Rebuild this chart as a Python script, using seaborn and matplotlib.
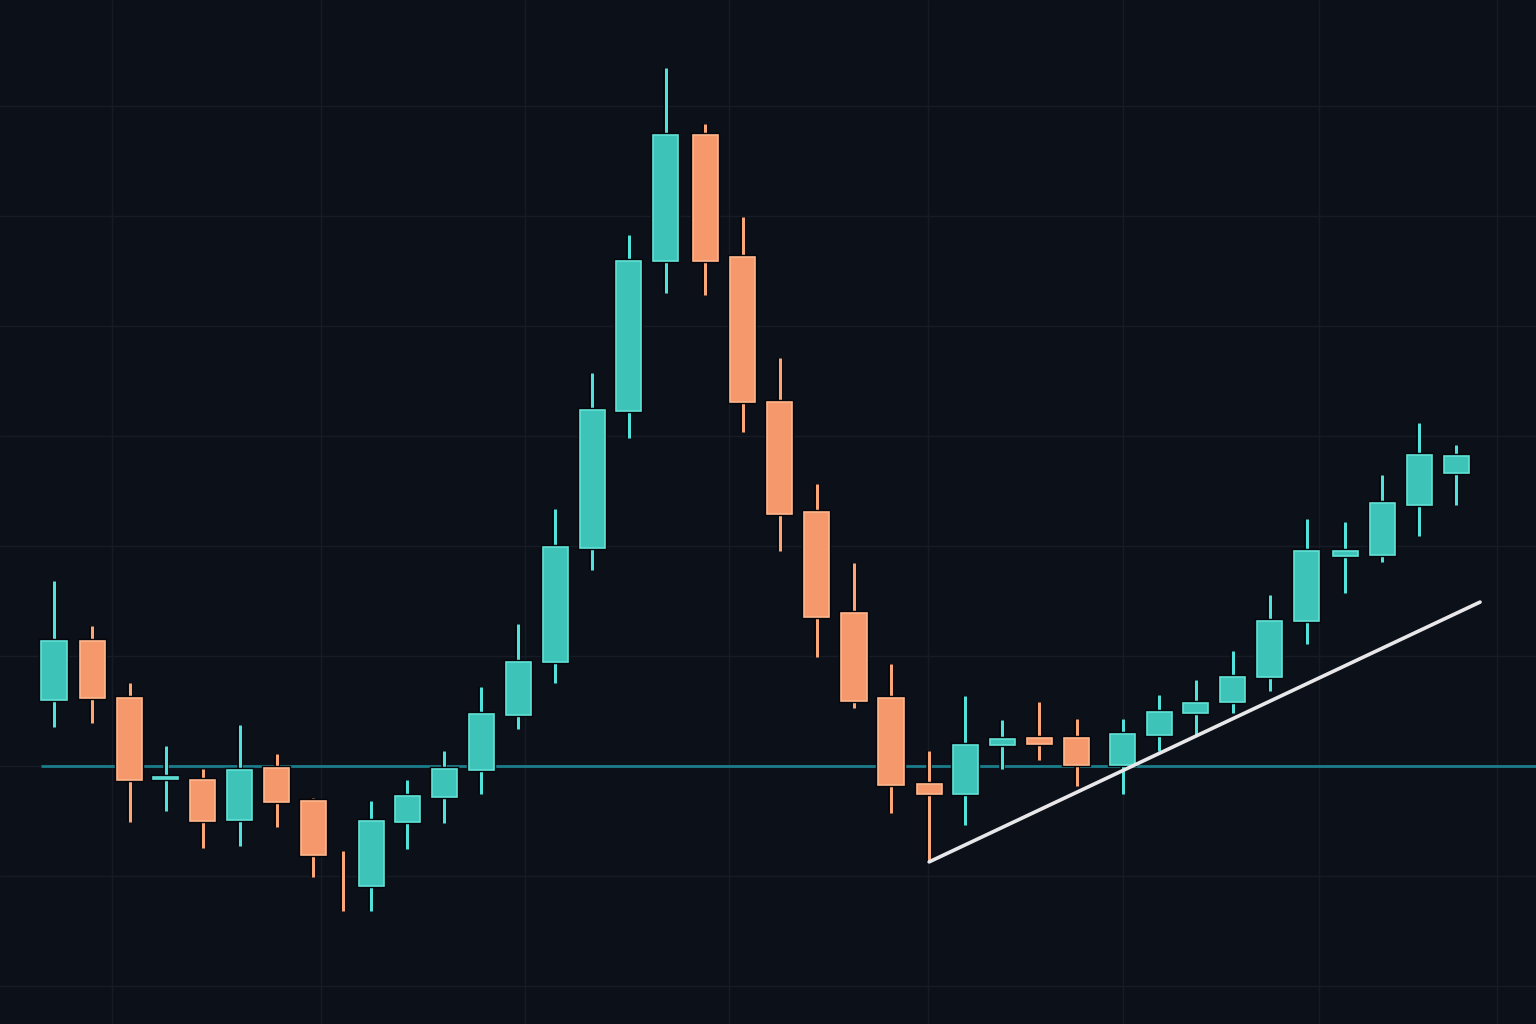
import numpy as np
import pandas as pd
import matplotlib
matplotlib.use("Agg")
import matplotlib.pyplot as plt
import matplotlib.patheffects as pe
import seaborn as sns

# ---- data ----
t = [0.00, 1.02, 2.03, 2.99, 3.98, 4.97, 5.96, 6.93, 7.73, 8.48,
     9.44, 10.43, 11.42, 12.41, 13.40, 14.39, 15.37, 16.36, 17.41, 18.42,
     19.41, 20.40, 21.39, 22.38, 23.40, 24.36, 25.35, 26.34, 27.35, 28.58,
     29.55, 30.53, 31.52, 32.51, 33.50, 34.52, 35.51, 36.50, 37.49]
open_ = [103.00, 105.68, 103.09, 99.41, 99.36, 97.55, 99.91, 98.41, 96.14, 94.55,
         97.45, 98.59, 99.82, 102.32, 104.73, 109.91, 116.14, 122.95, 128.68, 123.14,
         116.55, 111.55, 106.95, 103.09, 99.18, 98.73, 100.95, 101.27, 101.27, 100.05,
         101.41, 102.41, 102.91, 104.05, 106.59, 109.55, 109.59, 111.86, 113.32]
close = [105.68, 103.09, 99.36, 99.50, 97.50, 99.82, 98.36, 95.95, 96.14, 97.50,
         98.64, 99.86, 102.36, 104.73, 109.95, 116.18, 122.95, 128.68, 122.95, 116.55,
         111.45, 106.77, 102.95, 99.14, 98.73, 100.95, 101.23, 101.00, 100.05, 101.45,
         102.45, 102.86, 104.05, 106.59, 109.77, 109.77, 111.95, 114.14, 114.09]
high = [108.41, 106.36, 103.77, 100.91, 99.86, 101.86, 100.55, 98.55, 96.14, 98.41,
        99.36, 100.68, 103.59, 106.45, 111.68, 117.86, 124.14, 131.73, 129.18, 124.95,
        118.55, 112.82, 109.23, 104.64, 100.68, 103.18, 102.09, 102.91, 102.14, 102.14,
        103.23, 103.91, 105.23, 107.77, 111.23, 111.09, 113.23, 115.59, 114.59]
low = [101.77, 101.95, 97.45, 97.95, 96.27, 96.36, 97.23, 94.95, 93.41, 93.41,
       96.23, 97.41, 98.73, 101.68, 103.77, 108.91, 114.91, 121.50, 121.41, 115.18,
       109.77, 104.95, 102.64, 97.86, 95.64, 97.32, 99.86, 100.27, 99.09, 98.73,
       100.68, 101.36, 102.41, 103.41, 105.55, 107.86, 109.27, 110.45, 111.86]

support_level = 100.0
trend_t = [23.40, 38.13]
trend_p = [95.64, 107.45]

df = pd.DataFrame({"t": t, "open": open_, "close": close, "high": high, "low": low})

# ---- style ----
BG = "#0c1019"
GRID = "#161b25"
UP_FILL, UP_EDGE, UP_WICK = "#3ec3b8", "#62e2d8", "#52e2dc"
DN_FILL, DN_EDGE, DN_WICK = "#f5996d", "#ffb68c", "#f9a678"

sns.set_theme(style="dark", rc={
    "axes.facecolor": BG, "figure.facecolor": BG,
    "grid.color": GRID, "axes.grid": True,
})

fig = plt.figure(figsize=(15.36, 10.24), dpi=100)
ax = fig.add_axes([0, 0, 1, 1])
ax.set_facecolor(BG)

ax.set_xlim(-1.444, 39.626)
ax.set_ylim(88.27, 134.82)

# faint grid
ax.set_yticks(np.arange(90, 131, 5))
ax.set_xticks([1.55, 7.14, 12.6, 18.05, 23.37, 28.58, 33.82, 38.58])
ax.grid(True, color=GRID, linewidth=1.0)
ax.tick_params(left=False, bottom=False, labelleft=False, labelbottom=False)
for s in ax.spines.values():
    s.set_visible(False)

# horizontal support line
ax.hlines(support_level, -0.35, 39.7, color="#1b7d8b", linewidth=2.0, zorder=2)

shadow = [pe.Stroke(linewidth=4.0, foreground="#05070b"), pe.Normal()]
bwidth = 0.67
for _, r in df.iterrows():
    up = r["close"] > r["open"]
    wick = UP_WICK if up else DN_WICK
    fill = UP_FILL if up else DN_FILL
    edge = UP_EDGE if up else DN_EDGE
    ln = ax.vlines(r["t"], r["low"], r["high"], color=wick, linewidth=2.2, zorder=3)
    ln.set_path_effects(shadow)
    h = abs(r["close"] - r["open"])
    if h > 0:
        bars = ax.bar(r["t"], h, bottom=min(r["open"], r["close"]), width=bwidth,
                      color=fill, edgecolor=edge, linewidth=1.2, zorder=4)
        for b in bars:
            b.set_path_effects([pe.Stroke(linewidth=3.2, foreground="#05070b"), pe.Normal()])

# trend line
sns.lineplot(x=trend_t, y=trend_p, ax=ax, color="#e8e8ea", linewidth=2.6, zorder=5)

fig.savefig("out.png", dpi=100, facecolor=BG)
